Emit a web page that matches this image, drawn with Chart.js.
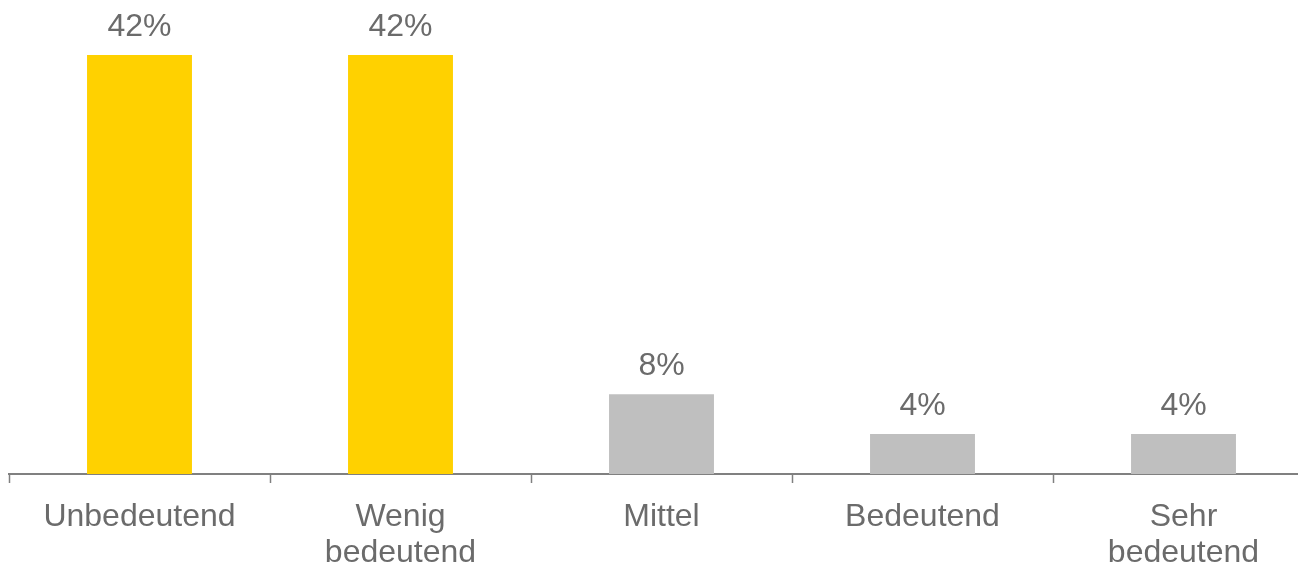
<!DOCTYPE html>
<html>
<head>
<meta charset="utf-8">
<script src="https://cdn.jsdelivr.net/npm/chart.js@4"></script>
<style>
  html, body { margin: 0; padding: 0; background: #fff; overflow: hidden; }
  #wrap { width: 1320px; height: 563px; position: relative; }
</style>
</head>
<body>
<div id="wrap"><canvas id="chart"></canvas></div>
<script>
// Daten
const categories = ['Unbedeutend', ['Wenig', 'bedeutend'], 'Mittel', 'Bedeutend', ['Sehr', 'bedeutend']];
const values = [42, 42, 8, 4, 4];
const valueLabels = ['42%', '42%', '8%', '4%', '4%'];
const barColors = ['#FFD100', '#FFD100', '#BFBFBF', '#BFBFBF', '#BFBFBF'];

Chart.defaults.font.family = "'Liberation Sans', Arial, sans-serif";
Chart.defaults.color = '#6b6b6b';

// Prozentwerte über den Balken
const valueLabelPlugin = {
    id: 'valueLabels',
    afterDatasetsDraw(chart) {
        const ctx = chart.ctx;
        const meta = chart.getDatasetMeta(0);
        ctx.save();
        ctx.font = "32px 'Liberation Sans', Arial, sans-serif";
        ctx.fillStyle = '#6b6b6b';
        ctx.textAlign = 'center';
        ctx.textBaseline = 'alphabetic';
        meta.data.forEach((bar, i) => {
            ctx.fillText(valueLabels[i], bar.x, bar.y - 19);
        });
        ctx.restore();
    }
};

new Chart(document.getElementById('chart'), {
    type: 'bar',
    data: {
        labels: categories,
        datasets: [{
            data: values,
            backgroundColor: barColors,
            borderWidth: 0,
            categoryPercentage: 1,
            barPercentage: 0.402
        }]
    },
    options: {
        responsive: true,
        maintainAspectRatio: false,
        animation: false,
        layout: {
            padding: { top: 55, left: 9, right: 6, bottom: 0 }
        },
        plugins: {
            legend: { display: false },
            tooltip: { enabled: false }
        },
        scales: {
            y: {
                display: false,
                min: 0,
                max: 42
            },
            x: {
                offset: true,
                afterFit(scale) { scale.height = 89; },
                grid: {
                    offset: true,
                    drawOnChartArea: false,
                    drawTicks: true,
                    tickLength: 9,
                    tickWidth: 1.5,
                    tickColor: '#808080'
                },
                border: { display: true, color: '#808080', width: 2 },
                ticks: {
                    color: '#6b6b6b',
                    padding: 16,
                    maxRotation: 0,
                    autoSkip: false,
                    font: { size: 32, lineHeight: 1.13 }
                }
            }
        }
    },
    plugins: [valueLabelPlugin]
});
</script>
</body>
</html>
